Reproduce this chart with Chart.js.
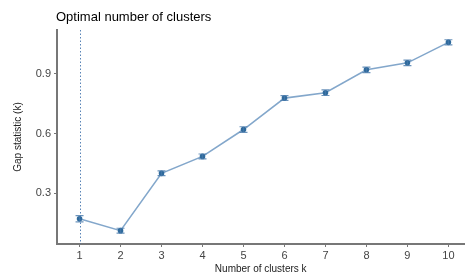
<!DOCTYPE html>
<html>
<head>
<meta charset="utf-8">
<script src="https://cdn.jsdelivr.net/npm/chart.js@4.4.1/dist/chart.umd.min.js"></script>
<style>
  html, body { margin: 0; padding: 0; background: #fff; }
  #wrap { width: 470px; height: 275px; }
</style>
</head>
<body>
<div id="wrap"><canvas id="gapChart" width="470" height="275"></canvas></div>
<script>
// values
const clusterK = [1, 2, 3, 4, 5, 6, 7, 8, 9, 10];
const gapValues = [0.172, 0.112, 0.400, 0.485, 0.620, 0.778, 0.805, 0.920, 0.955, 1.058];
const gapSE = [0.016, 0.012, 0.012, 0.012, 0.014, 0.012, 0.014, 0.014, 0.014, 0.013];
const yTicks = [0.3, 0.6, 0.9];
const optimalK = 1;

const blue = '#4a7fb0';

// error bars + vertical line for optimal k
const gapExtras = {
  id: 'gapExtras',
  afterDatasetsDraw(chart) {
    const { ctx, scales: { x, y }, chartArea } = chart;
    ctx.save();
    // dotted line at optimal k
    ctx.strokeStyle = 'rgba(60,110,170,0.85)';
    ctx.lineWidth = 1;
    ctx.setLineDash([1.5, 2]);
    const vx = Math.round(x.getPixelForValue(optimalK)) + 0.5;
    ctx.beginPath();
    ctx.moveTo(vx, chartArea.top);
    ctx.lineTo(vx, chartArea.bottom);
    ctx.stroke();
    ctx.setLineDash([]);
    // error bars
    ctx.strokeStyle = 'rgba(70,120,170,0.8)';
    ctx.lineWidth = 1.2;
    clusterK.forEach((k, i) => {
      const px = x.getPixelForValue(k);
      const top = y.getPixelForValue(gapValues[i] + gapSE[i]);
      const bot = y.getPixelForValue(gapValues[i] - gapSE[i]);
      ctx.beginPath();
      ctx.moveTo(px, top); ctx.lineTo(px, bot);
      ctx.moveTo(px - 4, top); ctx.lineTo(px + 4, top);
      ctx.moveTo(px - 4, bot); ctx.lineTo(px + 4, bot);
      ctx.stroke();
    });
    ctx.restore();
  },
  afterDraw(chart) {
    const { ctx } = chart;
    ctx.save();
    ctx.fillStyle = '#000';
    ctx.font = '13px "Liberation Sans", Arial, sans-serif';
    ctx.textBaseline = 'middle';
    ctx.fillText('Optimal number of clusters', 56, 17);
    ctx.restore();
  }
};

new Chart(document.getElementById('gapChart').getContext('2d'), {
  type: 'line',
  data: {
    datasets: [{
      label: 'Gap statistic',
      data: clusterK.map((k, i) => ({ x: k, y: gapValues[i] })),
      borderColor: 'rgba(100,145,190,0.8)',
      borderWidth: 1.6,
      pointBackgroundColor: '#2f6a9c',
      pointBorderColor: '#2f6a9c',
      pointRadius: 2,
      tension: 0,
      fill: false
    }]
  },
  options: {
    responsive: false,
    animation: false,
    layout: { padding: { top: 30, right: 0, left: 0, bottom: 0 } },
    plugins: { legend: { display: false }, tooltip: { enabled: false } },
    scales: {
      x: {
        type: 'linear',
        min: 0.45,
        max: 10.39,
        afterBuildTicks: axis => { axis.ticks = clusterK.map(v => ({ value: v })); },
        afterFit: axis => { axis.height = 31; },
        grid: { display: true, drawOnChartArea: false, drawTicks: true, tickLength: 3, color: '#777' },
        border: { display: true, color: '#777', width: 2 },
        ticks: {
          color: '#444',
          padding: 2,
          font: { family: '"Liberation Sans", Arial, sans-serif', size: 11 },
          callback: v => String(v)
        },
        title: {
          display: true,
          text: 'Number of clusters k',
          color: '#222',
          padding: { top: 0, bottom: 0 },
          font: { family: '"Liberation Sans", Arial, sans-serif', size: 10 }
        }
      },
      y: {
        type: 'linear',
        min: 0.045,
        max: 1.12,
        afterBuildTicks: axis => { axis.ticks = yTicks.map(v => ({ value: v })); },
        afterFit: axis => { axis.width = 57; },
        grid: { display: true, drawOnChartArea: false, drawTicks: true, tickLength: 3, color: '#777' },
        border: { display: true, color: '#777', width: 2 },
        ticks: {
          color: '#444',
          padding: 3,
          font: { family: '"Liberation Sans", Arial, sans-serif', size: 11 },
          callback: v => v.toFixed(1)
        },
        title: {
          display: true,
          text: 'Gap statistic (k)',
          color: '#222',
          padding: { top: 12, bottom: 0 },
          font: { family: '"Liberation Sans", Arial, sans-serif', size: 10 }
        }
      }
    }
  },
  plugins: [gapExtras]
});
</script>
</body>
</html>
